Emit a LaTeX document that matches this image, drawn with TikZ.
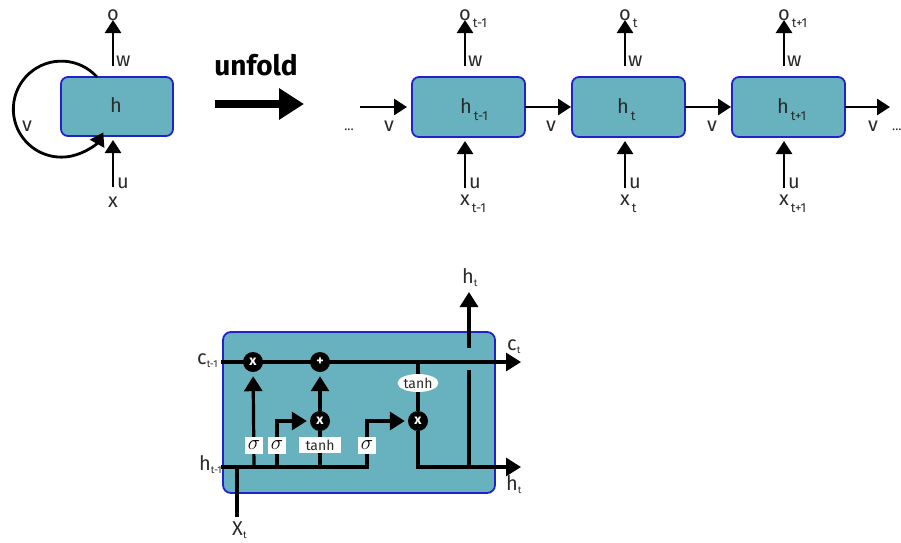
\documentclass[tikz,border=0pt]{standalone}
\usepackage{fontspec}
\setmainfont{Fira Sans}
\usetikzlibrary{arrows.meta,shapes.geometric}
\definecolor{cellfill}{HTML}{67B2BE}
\definecolor{cellborder}{HTML}{2222CC}
\definecolor{lbl}{HTML}{2A2A2A}
\newcommand\tsub[1]{\hspace{2pt}\raisebox{-7pt}{\fontsize{13}{13}\selectfont #1}}
\newcommand\lsub[1]{\raisebox{-3.5pt}{\fontsize{10}{10}\selectfont #1}}
\pgfdeclarelayer{back}
\pgfdeclarelayer{mid}
\pgfsetlayers{back,mid,main}
\begin{document}
\begin{tikzpicture}[x=1pt,y=-1pt,
  cell/.style={draw=cellborder,fill=cellfill,line width=1.8pt,rounded corners=7pt,
    minimum width=113pt,minimum height=60pt,inner sep=0pt,outer sep=0pt},
  flow/.style={line width=2.8pt,-{Triangle[length=13pt,width=16pt]}},
  bigflow/.style={line width=3.2pt,-{Triangle[length=15pt,width=18pt]}},
  wire/.style={line width=3.2pt},
  lab/.style={text=lbl,font=\fontsize{20}{22}\selectfont,inner sep=0pt},
  op/.style={circle,fill=black,minimum size=20pt,inner sep=0pt,text=white,
    font=\bfseries\fontsize{14}{14}\selectfont},
  gatebox/.style={fill=white,inner sep=0pt,minimum width=18pt,minimum height=17pt,
    font=\fontsize{21}{21}\selectfont},
  tanhbox/.style={fill=white,inner sep=0pt,minimum width=42pt,minimum height=16pt,
    text=lbl,font=\fontsize{14}{14}\selectfont},
]
\useasboundingbox (0,0) rectangle (901,542);

% ---------- folded RNN ----------
\begin{pgfonlayer}{back}
\node[cell,minimum width=112pt,minimum height=59pt] (h) at (117,106.5) {};
\end{pgfonlayer}
\node[lab,anchor=base] (hl) at (116,112) {h};
\coordinate (lpTop) at (113,20);
\coordinate (lpBot) at (113,66);
\coordinate (lpIn) at (113,187);
\coordinate (lpTip) at (113,140);
\draw[flow] (lpBot) -- (lpTop);
\draw[flow] (lpIn) -- (lpTip);
\node[lab,anchor=base] (o0) at (113,20) {o};
\node[lab,anchor=base west] (w0) at (116,66) {w};
\node[lab,anchor=base west] (u0) at (117,188) {u};
\node[lab,anchor=base] (x0) at (113,207) {x};
\node[lab,anchor=base] (v0) at (27,131) {v};
\draw[flow] ([xshift=-20pt]h.north) arc[start angle=42,end angle=331,radius=48pt];

% ---------- unfold ----------
\node[font=\bfseries\fontsize{28}{28}\selectfont,anchor=base,inner sep=0pt] (unf) at (256,75) {unfold};
\coordinate (ua) at (215,104);
\coordinate (ub) at (304,104);
\draw[line width=8pt,-{Triangle[length=25pt,width=30pt]}] (ua) -- (ub);

% ---------- unfolded chain ----------
\begin{pgfonlayer}{back}
\node[cell] (b1) at (468.5,107) {};
\node[cell] (b2) at (628.5,107) {};
\node[cell] (b3) at (788.5,107) {};
\end{pgfonlayer}
\node[lab,anchor=base west] at (460,113) {h\tsub{t-1}};
\node[lab,anchor=base west] at (617,113) {h\tsub{t}};
\node[lab,anchor=base west] at (777,113) {h\tsub{t+1}};

\foreach \i/\ax/\s in {1/465/t-1,2/625/t,3/784/t+1}{
  \coordinate (ot\i) at (\ax,20);
  \coordinate (ob\i) at (\ax,66);
  \coordinate (it\i) at (\ax,141);
  \coordinate (ib\i) at (\ax,188);
  \draw[flow] (ob\i) -- (ot\i);
  \draw[flow] (ib\i) -- (it\i);
  \node[lab,anchor=base west] (o\i) at (\ax-6,20) {o\tsub{\s}};
  \node[lab,anchor=base west] (w\i) at (\ax+3,66) {w};
  \node[lab,anchor=base west] (u\i) at (\ax+4,188) {u};
  \node[lab,anchor=base west] (x\i) at (\ax-5,205) {x\tsub{\s}};
}
\coordinate (cin) at (360,107);
\coordinate (cout) at (890,107);
\draw[flow,shorten >=5pt] (cin) -- (b1.west);
\draw[flow,shorten >=1pt] (b1.east) -- (b2.west);
\draw[flow,shorten >=1pt] (b2.east) -- (b3.west);
\draw[flow] (b3.east) -- (cout);
\node[lab,anchor=base] (v1) at (389,131) {v};
\node[lab,anchor=base] (v2) at (551,131) {v};
\node[lab,anchor=base] (v3) at (712,131) {v};
\node[lab,anchor=base] (v4) at (873,131) {v};
\node[lab,anchor=base,font=\fontsize{13}{13}\selectfont] (dl) at (349,130) {...};
\node[lab,anchor=base west,font=\fontsize{13}{13}\selectfont] (dr) at (892,130) {...};

% ---------- LSTM cell ----------
\begin{pgfonlayer}{back}
\node[cell,minimum width=272pt,minimum height=161pt,rounded corners=8pt] (lstm) at (359,412.5) {};
\end{pgfonlayer}
\node[op] (m1) at (253,362) {x};
\node[op] (a1) at (320,362) {+};
\node[op] (m2) at (320,421) {x};
\node[op] (m3) at (418,421) {x};
\node[gatebox] (s1) at (254,445) {$\sigma$};
\node[gatebox] (s2) at (277,445) {$\sigma$};
\node[tanhbox] (tg) at (320,445) {tanh};
\node[gatebox] (s3) at (367,445) {$\sigma$};
\node[ellipse,fill=white,inner sep=0pt,minimum width=40pt,minimum height=18pt,
  text=lbl,font=\fontsize{14}{14}\selectfont] (te) at (418,383) {tanh};

\coordinate (cL) at (221,362);
\coordinate (cR) at (521,362);
\coordinate (hL) at (221,467);
\coordinate (hR) at (521,467);
\coordinate (xb) at (237,517);
\coordinate (hu1) at (469,370);
\coordinate (hu2) at (469,348);
\coordinate (hup) at (469,292);

\begin{pgfonlayer}{mid}
\draw[bigflow] (cL) -- (cR);
\draw[wire] (xb) -- (xb |- hL);
\draw[bigflow,shorten >=3pt] (hL) -- (hL -| s3) -- (m3 -| s3) -- (m3);
\draw[bigflow,shorten >=4pt] (s1 |- hL) -- (m1);
\draw[bigflow,shorten >=3pt] (s2 |- hL) -- (s2 |- m2) -- (m2);
\draw[wire] (tg |- hL) -- (m2);
\draw[bigflow,shorten >=4pt] (m2) -- (a1);
\draw[wire] (a1 -| m3) -- (m3);
\draw[bigflow] (m3) -- (m3 |- hR) -- (hR);
\draw[wire] (hu1 |- hR) -- (hu1);
\draw[bigflow] (hu2) -- (hup);
\end{pgfonlayer}

\node[lab,anchor=base west] (lc1) at (197,364) {c\lsub{t-1}};
\node[lab,anchor=base west] (lh1) at (199,470) {h\lsub{t-1}};
\node[lab,anchor=base west] (lxt) at (232,535) {X\lsub{t}};
\node[lab,anchor=base west] (lht) at (462,283) {h\lsub{t}};
\node[lab,anchor=base west] (lct) at (507,350) {c\lsub{t}};
\node[lab,anchor=base west] (lhr) at (506,490) {h\lsub{t}};
\end{tikzpicture}
\end{document}
